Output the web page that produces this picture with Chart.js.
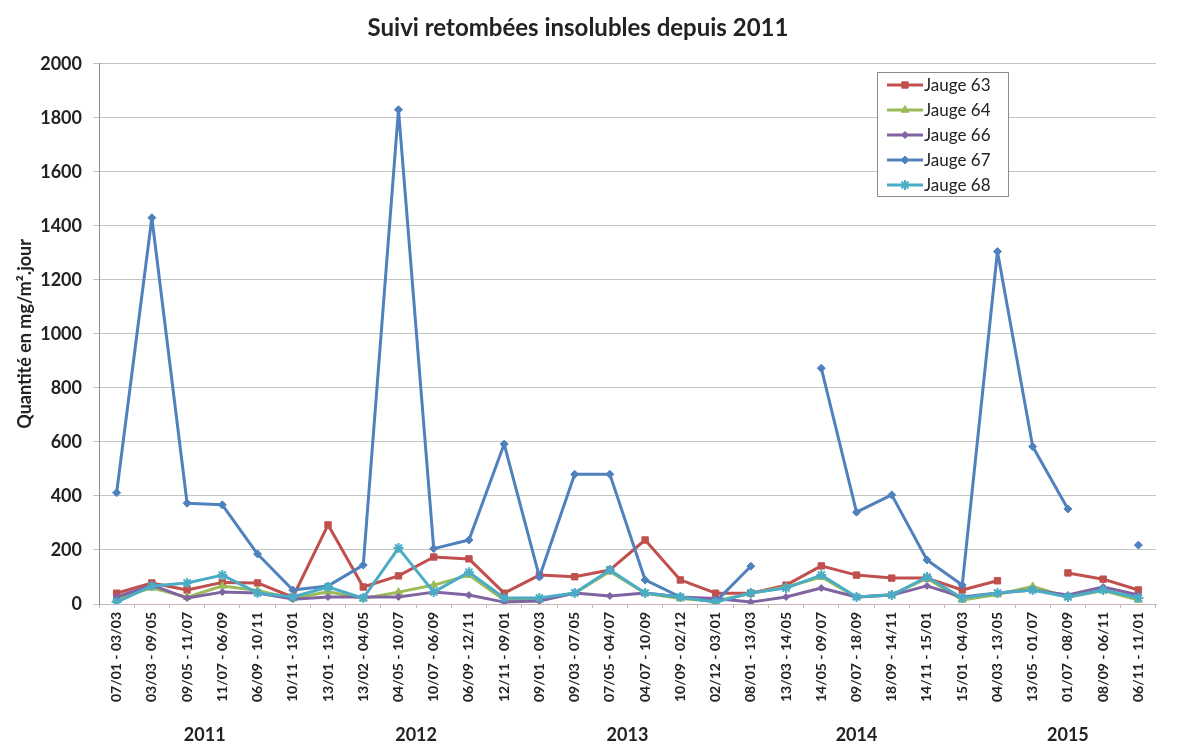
<!DOCTYPE html>
<html lang="fr">
<head>
  <meta charset="UTF-8" />
  <title>Suivi retombées insolubles</title>
  <script src="https://cdn.jsdelivr.net/npm/chart.js"></script>
  <style>
    html, body { margin: 0; padding: 0; background: #fff; }
    .wrap { width: 1188px; height: 747px; position: relative; }
  </style>
</head>
<body>
  <div class="wrap">
    <canvas id="chart" width="1188" height="747"></canvas>
  </div>

  <script>
    // periods (x axis)
    const periods = [
      '07/01 - 03/03', '03/03 - 09/05', '09/05 - 11/07', '11/07 - 06/09', '06/09 - 10/11',
      '10/11 - 13/01', '13/01 - 13/02', '13/02 - 04/05', '04/05 - 10/07', '10/07 - 06/09',
      '06/09 - 12/11', '12/11 - 09/01', '09/01 - 09/03', '09/03 - 07/05', '07/05 - 04/07',
      '04/07 - 10/09', '10/09 - 02/12', '02/12 - 03/01', '08/01 - 13/03', '13/03 - 14/05',
      '14/05 - 09/07', '09/07 - 18/09', '18/09 - 14/11', '14/11 - 15/01', '15/01 - 04/03',
      '04/03 - 13/05', '13/05 - 01/07', '01/07 - 08/09', '08/09 - 06/11', '06/11 - 11/01'
    ];

    // year groups under the periods (first / last period index)
    const years = ['2011', '2012', '2013', '2014', '2015'];
    const yearFirst = [0, 6, 12, 19, 25];
    const yearLast = [5, 11, 17, 23, 29];

    // mg/m².jour
    const jauge63 = [40, 78, 52, 80, 78, 25, 293, 63, 104, 174, 167, 40, 107, 101, 126,
                     237, 89, 40, 40, 70, 141, 107, 96, 96, 52, 86, null, 115, 92, 52];
    const jauge64 = [20, 60, 25, 67, 50, 20, 45, 20, 44, 70, 107, 15, 15, 40, 120,
                     40, 20, 10, 40, 63, 100, 25, 35, 95, 15, 35, 65, 25, 50, 15];
    const jauge66 = [26, 70, 22, 44, 41, 18, 26, 26, 26, 44, 33, 7, 11, 41, 30,
                     41, 26, 20, 7, 26, 59, 26, 33, 67, 26, 41, 52, 33, 63, 33];
    const jauge67 = [412, 1430, 373, 367, 185, 52, 67, 144, 1830, 205, 237, 592, 100, 480, 480,
                     89, 26, 8, 140, null, 873, 340, 404, 163, 70, 1305, 583, 352, null, 218];
    const jauge68 = [7, 67, 78, 107, 41, 26, 63, 22, 207, 44, 118, 22, 22, 41, 126,
                     41, 26, 7, 41, 59, 107, 26, 33, 100, 22, 41, 52, 26, 52, 22];

    const yTicks = [0, 200, 400, 600, 800, 1000, 1200, 1400, 1600, 1800, 2000];

    Chart.defaults.font.family = 'Lato, "Open Sans", sans-serif';
    Chart.defaults.color = '#222';

    function serie(label, data, color, style, radius, order) {
      return {
        label: label,
        data: data,
        borderColor: color,
        backgroundColor: color,
        borderWidth: 3,
        borderJoinStyle: 'round',
        pointStyle: style,
        pointRadius: radius,
        pointBorderWidth: style === 'star' ? 2 : 1,
        pointBackgroundColor: color,
        pointBorderColor: color,
        tension: 0,
        spanGaps: false,
        order: order
      };
    }

    const datasets = [
      serie('Jauge 63', jauge63, '#C0504D', 'rect', 4.5, 4),
      serie('Jauge 64', jauge64, '#9BBB59', 'triangle', 4.5, 3),
      serie('Jauge 66', jauge66, '#8064A2', 'rectRot', 3.5, 2),
      serie('Jauge 67', jauge67, '#4F81BD', 'rectRot', 4, 1),
      serie('Jauge 68', jauge68, '#4BACC6', 'star', 5, 0)
    ];

    // year labels below the rotated period labels
    const yearPlugin = {
      id: 'years',
      afterDraw(chart) {
        const xs = chart.scales.x;
        const ctx = chart.ctx;
        ctx.save();
        ctx.font = 'bold 18px Lato';
        ctx.fillStyle = '#222';
        ctx.textAlign = 'center';
        ctx.textBaseline = 'middle';
        years.forEach((y, k) => {
          const cx = (xs.getPixelForValue(yearFirst[k]) + xs.getPixelForValue(yearLast[k])) / 2;
          ctx.fillText(y, cx, 735);
        });
        ctx.restore();
      }
    };

    // boxed legend inside the plot, top right
    const boxLegend = {
      id: 'boxLegend',
      afterDraw(chart) {
        const ctx = chart.ctx;
        const bx = 877, by = 72, bw = 131, bh = 124;
        ctx.save();
        ctx.fillStyle = '#fff';
        ctx.fillRect(bx, by, bw, bh);
        ctx.strokeStyle = '#8c8c8c';
        ctx.lineWidth = 1;
        ctx.strokeRect(bx + 0.5, by + 0.5, bw, bh);
        ctx.font = '17px Lato';
        ctx.textBaseline = 'middle';
        chart.data.datasets.forEach((ds, i) => {
          const y = by + 13 + i * 25;
          ctx.strokeStyle = ds.borderColor;
          ctx.lineWidth = 3;
          ctx.beginPath();
          ctx.moveTo(bx + 10, y);
          ctx.lineTo(bx + 46, y);
          ctx.stroke();
          ctx.fillStyle = ds.borderColor;
          ctx.lineWidth = ds.pointBorderWidth;
          Chart.helpers.drawPoint(ctx, {
            pointStyle: ds.pointStyle,
            radius: ds.pointRadius,
            borderWidth: ds.pointBorderWidth,
            rotation: 0
          }, bx + 28, y);
          ctx.fillStyle = '#222';
          ctx.fillText(ds.label, bx + 47, y + 1);
        });
        ctx.restore();
      }
    };

    new Chart(document.getElementById('chart').getContext('2d'), {
      type: 'line',
      data: { labels: periods, datasets: datasets },
      plugins: [yearPlugin, boxLegend],
      options: {
        responsive: false,
        animation: false,
        layout: { padding: { left: 0, right: 32, top: 0, bottom: 0 } },
        plugins: {
          legend: { display: false },
          tooltip: { enabled: false },
          title: {
            display: true,
            text: 'Suivi retombées insolubles depuis 2011',
            font: { size: 24, weight: 'bold' },
            color: '#222',
            padding: { top: 14, bottom: 21 }
          }
        },
        scales: {
          x: {
            offset: true,
            afterFit: s => { s.height = 143; },
            grid: {
              drawOnChartArea: false,
              offset: true,
              tickLength: 4,
              color: '#c9b3b8'
            },
            border: { color: '#c9b3b8' },
            ticks: {
              autoSkip: false,
              minRotation: 90,
              maxRotation: 90,
              padding: 4,
              font: { size: 14, weight: 'bold' },
              color: '#222'
            }
          },
          y: {
            min: 0,
            max: 2000,
            afterFit: s => { s.width = 99; },
            afterBuildTicks: s => { s.ticks = yTicks.map(v => ({ value: v })); },
            grid: { color: '#c4c4c4', tickLength: 6 },
            border: { color: '#8c8c8c' },
            ticks: {
              padding: 11,
              font: { size: 18, weight: 'bold' },
              color: '#222',
              callback: v => String(v)
            },
            title: {
              display: true,
              text: 'Quantité en mg/m².jour',
              font: { size: 18, weight: 'bold' },
              color: '#222',
              padding: { top: 14, bottom: 0 }
            }
          }
        }
      }
    });
  </script>
</body>
</html>
